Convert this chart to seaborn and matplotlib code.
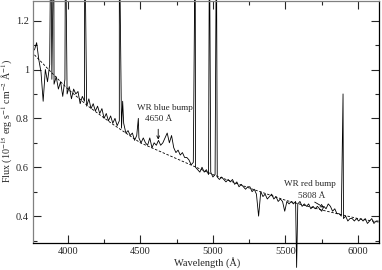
"""
WR galaxy optical spectrum with continuum fit and WR bump annotations.
"""

import numpy as np
import matplotlib
matplotlib.use('Agg')
import matplotlib.pyplot as plt
from matplotlib.ticker import MultipleLocator, FuncFormatter
import seaborn as sns

wave_start = 3770
wave_step = 15
flux_grid = [
    1.08, 1.11, 1.04, 0.99, 0.87, 1.00, 0.95, 1.02, 0.96, 0.94,
    0.97, 0.92, 0.95, 0.89, 0.96, 0.90, 0.93, 0.88, 0.92, 0.90,
    0.91, 0.86, 0.89, 0.87, 0.85, 0.88, 0.84, 0.86, 0.83, 0.85,
    0.82, 0.84, 0.80, 0.82, 0.79, 0.81, 0.78, 0.80, 0.77, 0.79,
    0.76, 0.78, 0.74, 0.75, 0.73, 0.74, 0.71, 0.73, 0.72, 0.70,
    0.72, 0.70, 0.69, 0.72, 0.68, 0.70, 0.69, 0.71, 0.69, 0.70,
    0.72, 0.74, 0.70, 0.73, 0.68, 0.66, 0.67, 0.65, 0.66, 0.64,
    0.64, 0.63, 0.61, 0.62, 0.60, 0.59, 0.58, 0.60, 0.58, 0.59,
    0.57, 0.58, 0.56, 0.57, 0.56, 0.55, 0.56, 0.55, 0.54, 0.55,
    0.54, 0.55, 0.53, 0.54, 0.52, 0.53, 0.52, 0.51, 0.52, 0.52,
    0.50, 0.51, 0.49, 0.40, 0.50, 0.48, 0.49, 0.47, 0.48, 0.49,
    0.47, 0.48, 0.46, 0.47, 0.46, 0.42, 0.46, 0.45, 0.46, 0.45,
    0.46, 0.45, 0.46, 0.44, 0.45, 0.44, 0.45, 0.43, 0.44, 0.43,
    0.44, 0.43, 0.42, 0.44, 0.43, 0.45, 0.44, 0.42, 0.43, 0.41,
    0.41, 0.40, 0.39, 0.40, 0.38, 0.39, 0.39, 0.38, 0.39, 0.38,
    0.39, 0.38, 0.39, 0.37, 0.38, 0.39, 0.37, 0.38, 0.38,
]

# Narrow emission lines (observed wavelength, peak flux) and the 5577 sky residual
line_wave = [3883, 3903, 3984, 4116, 4355, 4378, 4486, 4878, 4976, 5024, 5577, 5897]
line_peak = [1.60, 1.60, 1.60, 1.60, 1.60, 0.87, 0.80, 1.60, 1.60, 1.60, 0.19, 0.90]

# Continuum fit (dashed)
cont_wave = [3770, 3900, 4000, 4140, 4300, 4500, 4750, 5000, 5250, 5500, 5750, 6000, 6150]
cont_flux = [1.06, 0.98, 0.92, 0.85, 0.78, 0.70, 0.635, 0.57, 0.515, 0.465, 0.425, 0.39, 0.375]

# merge grid and lines
grid_wave = wave_start + wave_step * np.arange(len(flux_grid))
wave = np.concatenate([grid_wave, line_wave])
flux = np.concatenate([flux_grid, line_peak])
order = np.argsort(wave, kind='stable')
wave, flux = wave[order], flux[order]

sns.set_style('ticks')
plt.rcParams['font.family'] = ['Liberation Serif', 'DejaVu Serif']
plt.rcParams['mathtext.fontset'] = 'stix'
plt.rcParams['font.size'] = 7.5

fig = plt.figure(figsize=(3.82, 2.70), dpi=100)
ax = fig.add_axes([0.0864, 0.1, 0.9058, 0.896])

sns.lineplot(x=wave, y=flux, ax=ax, color='black', lw=0.6,
             estimator=None, sort=False, clip_on=False)
sns.lineplot(x=cont_wave, y=cont_flux, ax=ax, color='black', lw=0.6,
             estimator=None, sort=False)
ax.lines[-1].set_dashes([3, 2])

ax.set_xlim(3760, 6145)
ax.set_ylim(0.29, 1.28)

ax.xaxis.set_major_locator(MultipleLocator(500))
ax.xaxis.set_minor_locator(MultipleLocator(250))
ax.yaxis.set_major_locator(MultipleLocator(0.2))
ax.yaxis.set_minor_locator(MultipleLocator(0.1))
ax.yaxis.set_major_formatter(FuncFormatter(lambda v, p: f'{v:g}'))

ax.tick_params(which='both', direction='in', top=True, right=True,
               labelsize=7.5, width=0.8, pad=3)
ax.tick_params(which='major', length=6)
ax.tick_params(which='minor', length=3)

for side in ['left', 'top']:
    ax.spines[side].set_color('#808080')
for side in ['bottom', 'right']:
    ax.spines[side].set_color('black')
for s in ax.spines.values():
    s.set_linewidth(0.9)

ax.set_xlabel('Wavelength (Å)', fontsize=7.5)
ax.set_ylabel('Flux (10$^{-15}$ erg s$^{-1}$ cm$^{-2}$ Å$^{-1}$)', fontsize=7.2)
ax.xaxis.set_label_coords(0.503, -0.060)
ax.yaxis.set_label_coords(-0.052, 0.504)

# annotations
ax.text(4671, 0.844, 'WR blue bump', ha='center', va='center', fontsize=6.6)
ax.text(4623, 0.796, '4650 Å', ha='center', va='center', fontsize=6.6)
ax.annotate('', xy=(4623, 0.702), xytext=(4623, 0.767),
            arrowprops=dict(arrowstyle='->', lw=0.6, color='black',
                            mutation_scale=5))
ax.text(5671, 0.532, 'WR red bump', ha='center', va='center', fontsize=6.6)
ax.text(5678, 0.483, '5808 Å', ha='center', va='center', fontsize=6.6)
ax.annotate('', xy=(5782, 0.430), xytext=(5685, 0.463),
            arrowprops=dict(arrowstyle='->', lw=0.6, color='black',
                            mutation_scale=5))

plt.savefig('out.png', dpi=100)
plt.close()
